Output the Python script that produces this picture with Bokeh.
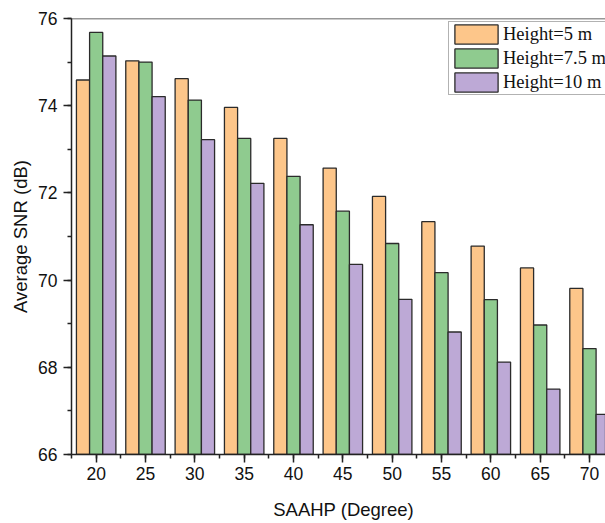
import numpy as np
from bokeh.plotting import figure
from bokeh.models import SingleIntervalTicker, Legend, LegendItem, Span, Range1d
from bokeh.embed import file_html
from bokeh.resources import INLINE

# ---- data ----
angles = [20, 25, 30, 35, 40, 45, 50, 55, 60, 65, 70]
snr_h5 = [74.59, 75.03, 74.62, 73.96, 73.25, 72.57, 71.92, 71.34, 70.78, 70.28, 69.81]
snr_h75 = [75.68, 75.00, 74.13, 73.25, 72.38, 71.58, 70.84, 70.17, 69.55, 68.97, 68.43]
snr_h10 = [75.14, 74.21, 73.22, 72.22, 71.27, 70.36, 69.56, 68.81, 68.12, 67.50, 66.92]
series_labels = ["Height=5 m", "Height=7.5 m", "Height=10 m"]
x_label = "\u00a0\u00a0SAAHP (Degree)"
y_label = "Average SNR (dB)"

colors = ["#FDC68A", "#8FCB8F", "#BDA9D6"]
bar_w = 4.0 / 3.0

p = figure(width=605, height=523, output_backend="svg", toolbar_location=None,
           x_range=Range1d(17.5, 71.62), y_range=Range1d(66, 76),
           min_border_left=71, min_border_right=0, min_border_top=18,
           min_border_bottom=69)

x = np.array(angles, dtype=float)
renderers = []
for i, (vals, col) in enumerate(zip([snr_h5, snr_h75, snr_h10], colors)):
    r = p.vbar(x=x + (i - 1) * bar_w, top=vals, bottom=66, width=bar_w,
               fill_color=col, line_color="#2b2b2b", line_width=1.3)
    renderers.append(r)

p.xgrid.visible = False
p.ygrid.visible = False
p.outline_line_color = None
p.background_fill_color = "white"
p.border_fill_color = "white"

p.xaxis.ticker = SingleIntervalTicker(interval=5, num_minor_ticks=2)
p.yaxis.ticker = SingleIntervalTicker(interval=2, num_minor_ticks=2)

for ax in (p.xaxis[0], p.yaxis[0]):
    ax.axis_line_color = "#222222"
    ax.axis_line_width = 1.5
    ax.major_tick_line_color = "#222222"
    ax.major_tick_line_width = 1.5
    ax.minor_tick_line_color = "#222222"
    ax.minor_tick_line_width = 1.5
    ax.major_tick_in = 0
    ax.major_tick_out = 8
    ax.minor_tick_in = 0
    ax.minor_tick_out = 4
    ax.major_label_text_font = "Liberation Sans"
    ax.major_label_text_font_size = "17.5px"
    ax.major_label_text_color = "#111111"
    ax.axis_label_text_font = "Liberation Sans"
    ax.axis_label_text_font_size = "18.5px"
    ax.axis_label_text_font_style = "normal"
    ax.axis_label_text_color = "#111111"

p.yaxis.axis_label = y_label
p.yaxis.major_label_standoff = 6
p.yaxis.axis_label_standoff = 4
p.xaxis.axis_label = x_label
p.xaxis.major_label_standoff = 4
p.xaxis.axis_label_standoff = 16

p.add_layout(Span(location=76, dimension="width", line_color="#333333",
                  line_width=1.5))

legend = Legend(items=[LegendItem(label=lab, renderers=[r])
                       for lab, r in zip(series_labels, renderers)],
                location=(377, 359), margin=0, padding=0, spacing=0,
                glyph_width=54, glyph_height=24, label_height=24,
                label_standoff=0, label_text_font="Liberation Serif",
                label_text_font_size="18.5px", label_text_color="#111111",
                border_line_color="#666666", border_line_width=1.5,
                background_fill_color="white", background_fill_alpha=1.0)
p.add_layout(legend)

open("out.html", "w").write(file_html(p, INLINE))
